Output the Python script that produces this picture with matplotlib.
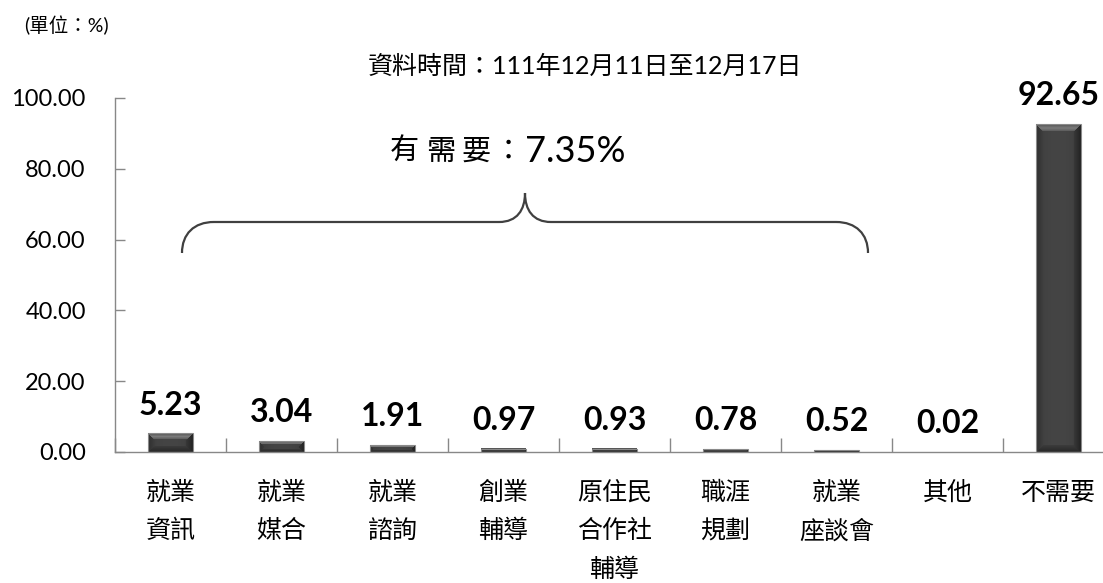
import matplotlib
matplotlib.use("Agg")
import matplotlib.pyplot as plt
from matplotlib.path import Path
from matplotlib.patches import PathPatch, Rectangle
import numpy as np

categories = ['就業\n資訊', '就業\n媒合', '就業\n諮詢', '創業\n輔導', '原住民\n合作社\n輔導',
              '職涯\n規劃', '就業\n座談會', '其他', '不需要']
values = [5.23, 3.04, 1.91, 0.97, 0.93, 0.78, 0.52, 0.02, 92.65]
yticks = [0, 20, 40, 60, 80, 100]
title = '資料時間：111年12月11日至12月17日'
unit = '(單位：%)'
need_chars = ['有', '需', '要', '：']
need_value = '7.35%'

NUM = ['Lato', 'Noto Sans CJK TC']
CJK = ['Noto Sans CJK TC', 'DejaVu Sans']

W, H = 1103, 583
fig = plt.figure(figsize=(W / 100, H / 100), dpi=100)
ax = fig.add_axes([115 / W, 131 / H, 999 / W, 354 / H])

ax.set_xlim(-0.5, len(values) - 0.5)
ax.set_ylim(0, 100)

x = np.arange(len(values))
bw = 0.4
PX_PER_UNIT = 3.54


def bevel_image(nx, ny, b=7):
    jj, ii = np.meshgrid(np.arange(nx), np.arange(ny))
    d_top = ii
    d_bot = ny - 1 - ii
    d_left = jj
    d_right = nx - 1 - jj
    t = (jj - (nx - 1) / 2) / ((nx - 1) / 2)
    img = 0.27 - 0.03 * t ** 2
    bb = min(b, max(1, ny // 3))
    top = (d_top <= np.minimum(d_left, d_right)) & (d_top <= d_bot) & (d_top < bb)
    bot = (d_bot < np.minimum(d_left, d_right)) & (d_bot < d_top) & (d_bot < bb)
    left = (d_left < d_top) & (d_left <= d_right) & (d_left <= d_bot) & (d_left < b)
    right = (d_right < d_top) & (d_right < d_left) & (d_right <= d_bot) & (d_right < b)
    frac_top = 1 - d_top / bb
    img = np.where(top, 0.28 + 0.2 * (1 - np.abs(frac_top - 0.5) * 1.4), img)
    img = np.where(left, 0.19 + 0.06 * d_left / b, img)
    img = np.where(right, 0.14 + 0.09 * d_right / b, img)
    img = np.where(bot, 0.16 + 0.08 * d_bot / bb, img)
    return np.dstack([img, img, img])


for xi, v in zip(x, values):
    if v * PX_PER_UNIT < 0.5:
        continue
    ny = max(2, int(round(v * PX_PER_UNIT)))
    img = bevel_image(44, ny)
    ax.imshow(img, extent=(xi - bw / 2, xi + bw / 2, 0, v), aspect='auto',
              interpolation='bilinear', zorder=3, origin='upper', vmin=0, vmax=1)
    ax.add_patch(Rectangle((xi - bw / 2, 0), bw, v, facecolor='none',
                           edgecolor='#8a8a8a', linewidth=0.8, zorder=3.5))

ax.set_xlim(-0.5, len(values) - 0.5)
ax.set_ylim(0, 100)

for xi, v in zip(x, values):
    ax.annotate(f'{v:.2f}', (xi, v), xytext=(0, 10), textcoords='offset points',
                ha='center', va='bottom', fontsize=23, fontweight='bold', family=NUM,
                color='black')

ax.set_yticks(yticks)
ax.set_yticklabels([f'{t:.2f}' for t in yticks], family=NUM, fontsize=17)
ax.set_xticks(x)
ax.set_xticklabels(categories, family=CJK, fontsize=18, linespacing=1.62, va='top')
ax.set_xticks(np.arange(len(values) + 1) - 0.5, minor=True)

ax.tick_params(axis='x', which='major', length=0, pad=20)
ax.tick_params(axis='x', which='minor', direction='in', length=10, color='#888888', width=1)
ax.tick_params(axis='y', direction='in', length=7, color='#888888', width=1, pad=21)

for s in ['top', 'right']:
    ax.spines[s].set_visible(False)
for s in ['left', 'bottom']:
    ax.spines[s].set_color('#888888')
    ax.spines[s].set_linewidth(1.0)
    ax.spines[s].set_zorder(4)


# brace
def px2data(px, py):
    return ((px - 115) / 111.0 - 0.5, (452 - py) / PX_PER_UNIT)


L, R, C = 182, 868, 525
yb, yf, yp = 253, 222, 193
pts = [(L, yb), (L, yf + 12), (L + 12, yf), (L + 32, yf),
       (C - 26, yf), (C - 8, yf), (C, yf - 12), (C, yp),
       (C, yf - 12), (C + 8, yf), (C + 26, yf),
       (R - 32, yf), (R - 12, yf), (R, yf + 12), (R, yb)]
codes = [Path.MOVETO, Path.CURVE4, Path.CURVE4, Path.CURVE4,
         Path.LINETO, Path.CURVE4, Path.CURVE4, Path.CURVE4,
         Path.CURVE4, Path.CURVE4, Path.CURVE4,
         Path.LINETO, Path.CURVE4, Path.CURVE4, Path.CURVE4]
verts = [px2data(*p) for p in pts]
ax.add_patch(PathPatch(Path(verts, codes), facecolor='none', edgecolor='#404040',
                       linewidth=1.6, clip_on=False, zorder=4))

# "有需要：7.35%"
for ch, cx in zip(need_chars, [404, 441, 476, 508]):
    fig.text(cx / W, 1 - 152 / H, ch, family=CJK, fontsize=21, ha='center', va='center')
fig.text(525 / W, 1 - 152 / H, need_value, family=NUM, fontsize=26, ha='left', va='center')

fig.text(585 / W, 1 - 66 / H, title, family=NUM, fontsize=18, ha='center', va='center')
fig.text(24 / W, 1 - 25 / H, unit, family=NUM, fontsize=14, ha='left', va='center')

fig.savefig('out.png', dpi=100)
